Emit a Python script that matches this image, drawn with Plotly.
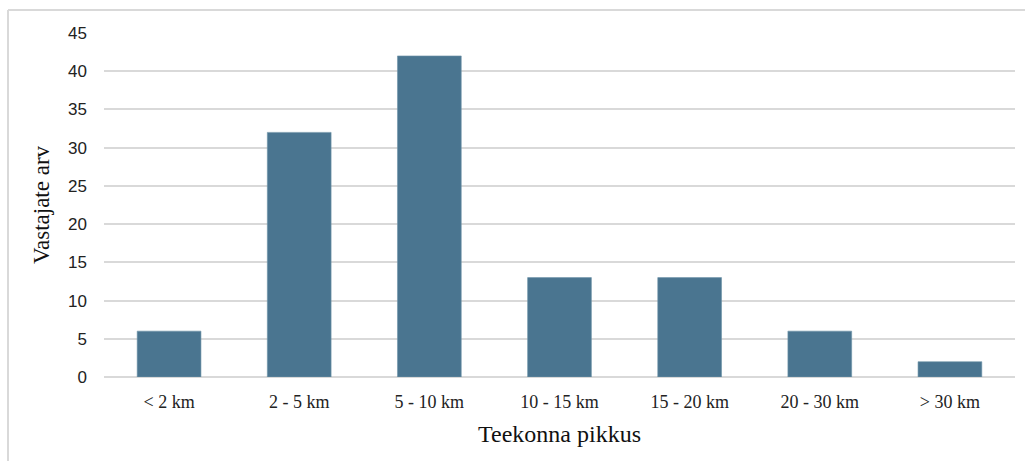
import plotly.graph_objects as go

categories = ["< 2 km", "2 - 5 km", "5 - 10 km", "10 - 15 km", "15 - 20 km", "20 - 30 km", "> 30 km"]
respondents = [6, 32, 42, 13, 13, 6, 2]
y_ticks = [0, 5, 10, 15, 20, 25, 30, 35, 40, 45]

W, H = 1025, 461
ML, MR, MT, MB = 104, 10, 33, 84
pw, ph = W - ML - MR, H - MT - MB

serif = "Liberation Serif, Times New Roman, serif"
sans = "Liberation Sans, Arial, Helvetica, sans-serif"

fig = go.Figure(
    go.Bar(
        x=categories,
        y=respondents,
        marker=dict(color="#4a7590", line=dict(color="#6f93a8", width=0.6)),
        width=0.49,
    )
)

# outer chart frame (top and left edges)
bx0 = (8 - ML) / pw
by1 = 1 + (MT - 10) / ph
fig.add_shape(type="line", xref="paper", yref="paper", x0=bx0, x1=(W - ML) / pw + 0.01,
              y0=by1, y1=by1, line=dict(color="#d9d9d9", width=2))
fig.add_shape(type="line", xref="paper", yref="paper", x0=bx0, x1=bx0,
              y0=by1, y1=-MB / ph - 0.01, line=dict(color="#d9d9d9", width=2))

fig.update_layout(
    width=W,
    height=H,
    margin=dict(l=ML, r=MR, t=MT, b=MB),
    plot_bgcolor="white",
    paper_bgcolor="white",
    showlegend=False,
    bargap=0.51,
    xaxis=dict(
        tickfont=dict(family=serif, size=18, color="#222222"),
        ticklabelstandoff=12,
        showline=False,
        showgrid=False,
        title=dict(text="Teekonna pikkus", font=dict(family=serif, size=24, color="#111111"), standoff=14),
    ),
    yaxis=dict(
        range=[0, 45],
        tickvals=y_ticks,
        tickfont=dict(family=sans, size=17, color="#222222"),
        ticklabelstandoff=16,
        showgrid=True,
        gridcolor="#d9d9d9",
        gridwidth=1.5,
        zeroline=True,
        zerolinecolor="#d9d9d9",
        zerolinewidth=1.5,
        title=dict(text="Vastajate arv", font=dict(family=serif, size=23, color="#111111"), standoff=12),
    ),
)

fig.write_html("out.html")
